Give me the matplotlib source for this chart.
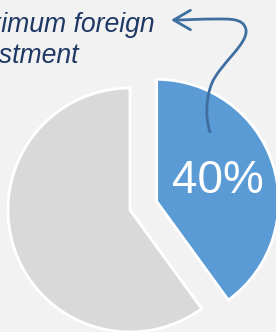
import matplotlib
matplotlib.use("Agg")
import matplotlib.pyplot as plt
from matplotlib.path import Path
from matplotlib.patches import FancyArrowPatch

# data
labels = ["Foreign share", "Other"]
shares = [40, 60]
callout = ["Maximum foreign", "investment"]

colors = ["#5B9BD5", "#D9D9D9"]
bg = "#F2F2F2"

W, H = 276, 332
fig = plt.figure(figsize=(W / 100, H / 100), dpi=100, facecolor=bg)
ax = fig.add_axes([0, 0, 1, 1])
ax.set_facecolor(bg)

# explode is in data units here (pixels)
ax.pie(shares, colors=colors, startangle=90, counterclock=False,
       center=(130, 122), radius=122, explode=[28, 0],
       autopct=lambda p: f"{p:.0f}%" if p < 50 else "", pctdistance=0.53,
       wedgeprops=dict(edgecolor="white", linewidth=2),
       textprops=dict(color="white", fontsize=33, family="Liberation Sans"))

ax.set_xlim(0, W)
ax.set_ylim(0, H)
ax.set_aspect("equal")
ax.axis("off")

for i, line in enumerate(callout):
    ax.text(-49, 300 - 31 * i, line, ha="left", va="baseline", fontsize=19.2,
            style="italic", color="#1F3864", family="Liberation Sans")

# curved callout arrow
verts = [(210, 200), (205, 215), (206, 235), (212, 249),
         (220, 268), (248, 288), (246, 302),
         (244, 314), (230, 313), (215, 313),
         (200, 313), (185, 312), (171, 312)]
codes = [Path.MOVETO] + [Path.CURVE4] * 12
arrow = FancyArrowPatch(path=Path(verts, codes),
                        arrowstyle="->,head_length=12,head_width=7",
                        color="#3E6FA0", linewidth=2)
ax.add_patch(arrow)

fig.savefig("out.png", dpi=100, facecolor=bg)
